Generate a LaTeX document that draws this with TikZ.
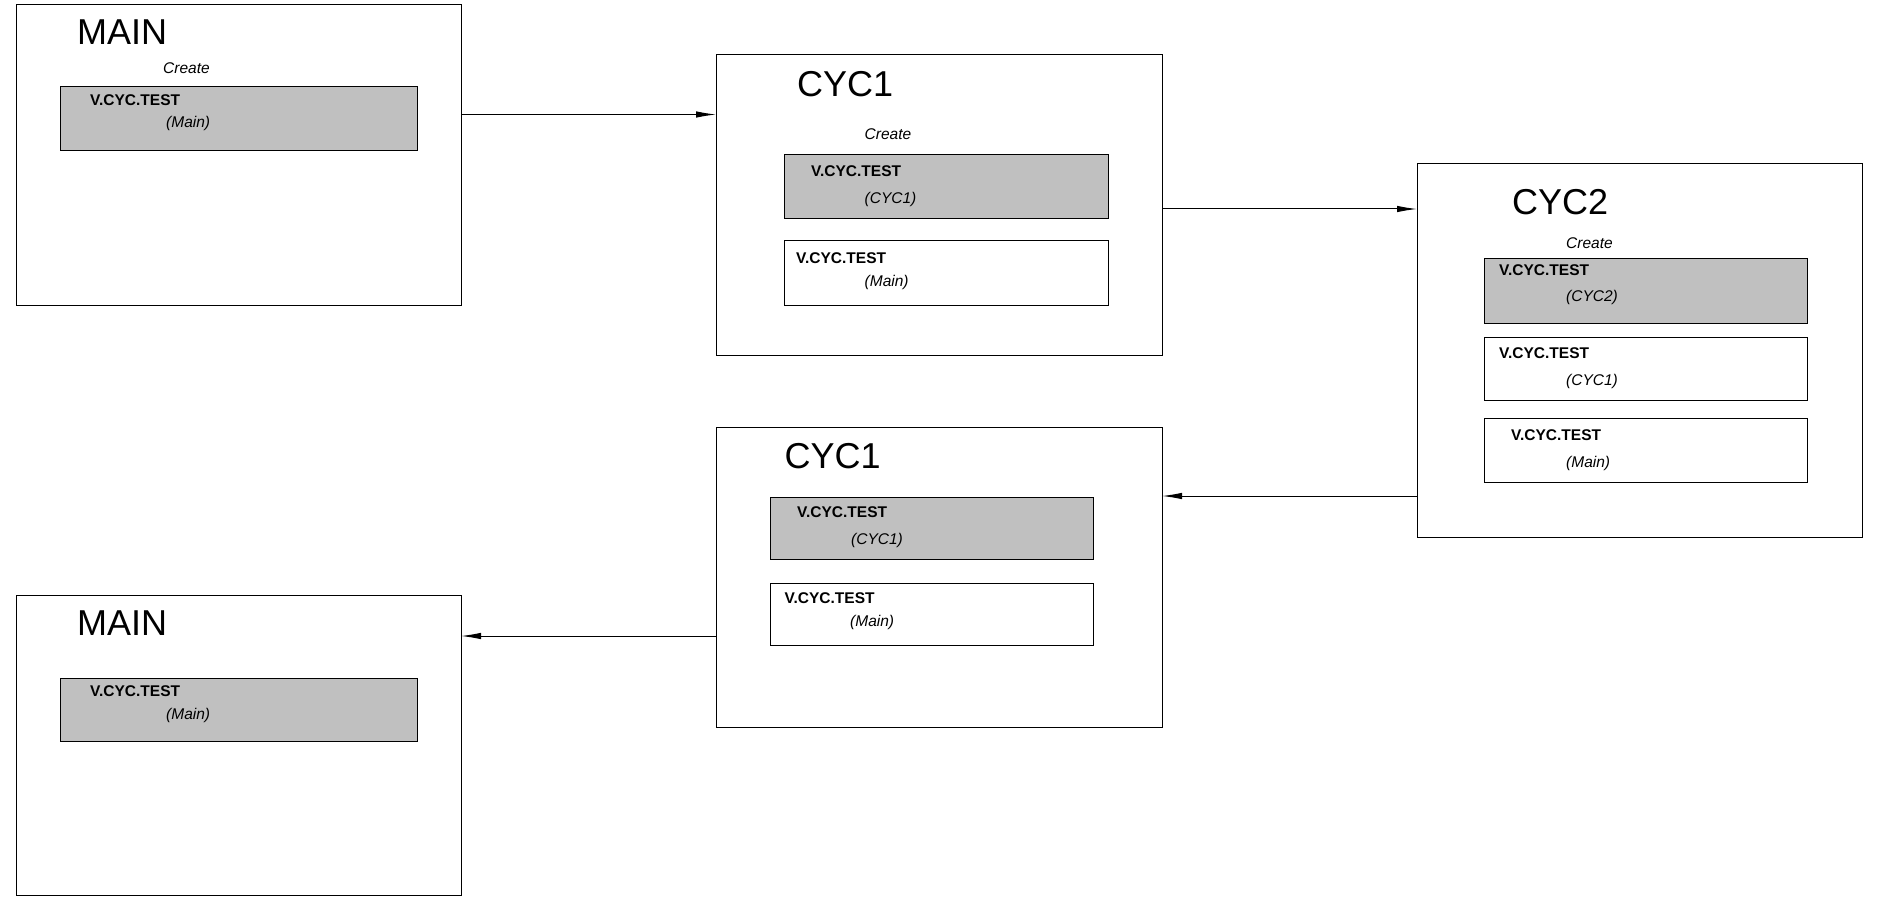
\documentclass[tikz,border=0pt]{standalone}
\usepackage{fontspec}
\setmainfont{Liberation Sans}
\usetikzlibrary{arrows.meta}
\tikzset{>={Latex[length=20pt,width=6.5pt]}}
\definecolor{boxgrey}{RGB}{192,192,192}
\tikzset{
  frame/.style={draw,line width=1pt,inner sep=0pt,outer sep=0pt,minimum width=445pt,minimum height=300pt},
  varbox/.style={draw,line width=1pt,inner sep=0pt,minimum width=323.5pt,minimum height=64pt},
  greybox/.style={varbox,fill=boxgrey},
  ttl/.style={inner sep=0pt,anchor=base west,font=\fontsize{36}{40}\selectfont},
  var/.style={inner sep=0pt,anchor=base west,font=\fontsize{15.5}{18}\selectfont\bfseries},
  ctx/.style={inner sep=0pt,anchor=base west,font=\fontsize{15.5}{18}\selectfont\itshape},
  arr/.style={->,line width=1pt}
}

\begin{document}
\begin{tikzpicture}[x=1pt,y=-1pt]
\useasboundingbox (0,0) rectangle (1878,901);

% Main, top
\node[frame] (MA) at (238.5,155) {};
\node[greybox,minimum width=357pt] (MA1) at (238.5,119) {};
\node[ttl] (MAt) at (77,45) {MAIN};
\node[ctx] (MAc) at (163,74) {Create};
\node[var] (MA1v) at (90,106) {V.CYC.TEST};
\node[ctx] (MA1s) at (166,128) {(Main)};

% Cyc1, top
\node[frame,minimum width=446pt] (CA) at (939,205) {};
\node[greybox] (CA1) at (946.25,187) {};
\node[varbox] (CA2) at (946.25,273) {};
\node[ttl] (CAt) at (797,97) {CYC1};
\node[ctx] (CAc) at (864.5,140) {Create};
\node[var] (CA1v) at (811,177) {V.CYC.TEST};
\node[ctx] (CA1s) at (864.5,204) {(CYC1)};
\node[var] (CA2v) at (796,263) {V.CYC.TEST};
\node[ctx] (CA2s) at (864.5,286) {(Main)};

% Cyc2
\node[frame,minimum height=373pt] (CB) at (1639.5,350.5) {};
\node[greybox,minimum width=323pt] (CB1) at (1645.5,291) {};
\node[varbox,minimum width=323pt,minimum height=63pt] (CB2) at (1645.5,368.5) {};
\node[varbox,minimum width=323pt] (CB3) at (1645.5,450) {};
\node[ttl] (CBt) at (1512,215) {CYC2};
\node[ctx] (CBc) at (1566,249) {Create};
\node[var] (CB1v) at (1499,276) {V.CYC.TEST};
\node[ctx] (CB1s) at (1566,301) {(CYC2)};
\node[var] (CB2v) at (1499,358) {V.CYC.TEST};
\node[ctx] (CB2s) at (1566,385) {(CYC1)};
\node[var] (CB3v) at (1511,440) {V.CYC.TEST};
\node[ctx] (CB3s) at (1566,467) {(Main)};

% Cyc1, bottom
\node[frame,minimum width=446pt] (CC) at (939,577) {};
\node[greybox,minimum height=62pt] (CC1) at (931.75,528) {};
\node[varbox,minimum height=62pt] (CC2) at (931.75,614) {};
\node[ttl] (CCt) at (784.5,468) {CYC1};
\node[var] (CC1v) at (797,517) {V.CYC.TEST};
\node[ctx] (CC1s) at (851,544) {(CYC1)};
\node[var] (CC2v) at (784.5,603) {V.CYC.TEST};
\node[ctx] (CC2s) at (850,626) {(Main)};

% Main, bottom
\node[frame] (MB) at (238.5,745) {};
\node[greybox,minimum width=357pt,minimum height=63pt] (MB1) at (238.5,709.5) {};
\node[ttl] (MBt) at (77,635) {MAIN};
\node[var] (MB1v) at (90,696) {V.CYC.TEST};
\node[ctx] (MB1s) at (166,719) {(Main)};

\draw[arr] ([yshift=40.5pt]MA.east) -- ([yshift=40.5pt]MA.east -| CA.west);
\draw[arr] ([yshift=-4pt]CA.east) -- ([yshift=-4pt]CA.east -| CB.west);
\draw[arr] ([yshift=-145.5pt]CB.west) -- ([yshift=-145.5pt]CB.west -| CC.east);
\draw[arr] ([yshift=-59pt]CC.west) -- ([yshift=-59pt]CC.west -| MB.east);

\end{tikzpicture}
\end{document}
